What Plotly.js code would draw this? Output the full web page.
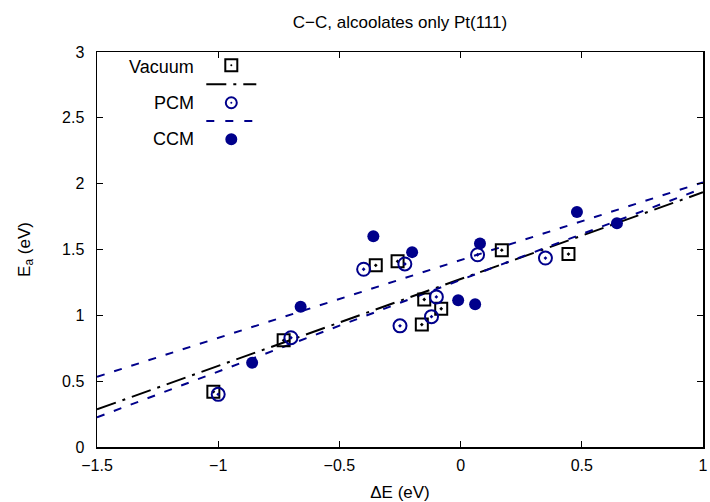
<!DOCTYPE html>
<html>
<head>
<meta charset="utf-8">
<script src="https://cdn.plot.ly/plotly-3.0.1.min.js"></script>
<style>html,body{margin:0;padding:0;background:#fff;}#chart{width:710px;height:502px;}</style>
</head>
<body>
<div id="chart"></div>
<script>
// Data
const vacX = [-1.02, -0.73, -0.35, -0.26, -0.15, -0.08, -0.16, 0.17, 0.445];
const vacY = [0.42, 0.81, 1.38, 1.41, 1.12, 1.05, 0.93, 1.495, 1.465];
const pcmX = [-1.00, -0.70, -0.40, -0.23, -0.10, -0.12, -0.25, 0.07, 0.35];
const pcmY = [0.40, 0.83, 1.35, 1.39, 1.14, 0.99, 0.92, 1.46, 1.435];
const ccmX = [-0.86, -0.66, -0.36, -0.20, -0.01, 0.06, 0.08, 0.48, 0.645];
const ccmY = [0.64, 1.065, 1.60, 1.48, 1.115, 1.085, 1.545, 1.785, 1.70];
// Fitted lines (end points)
const vacFitX = [-1.5, 1];
const vacFitY = [0.286, 1.935];
const pcmFitX = [-1.5, 1];
const pcmFitY = [0.225, 1.965];
const ccmFitX = [-1.5, 1];
const ccmFitY = [0.533, 2.01];
const xTicks = [-1.5, -1, -0.5, 0, 0.5, 1];
const yTicks = [0, 0.5, 1, 1.5, 2, 2.5, 3];
const seriesNames = ['Vacuum', 'PCM', 'CCM'];

const NAVY = '#00008b';
const FONT = 'Liberation Sans, Arial, Helvetica, sans-serif';

const traces = [
  {x: vacFitX, y: vacFitY, mode: 'lines', line: {color: '#000', width: 2, dash: '20px,7px,3px,7px'}, hoverinfo: 'skip'},
  {x: pcmFitX, y: pcmFitY, mode: 'lines', line: {color: NAVY, width: 2, dash: '8px,10px'}, hoverinfo: 'skip'},
  {x: ccmFitX, y: ccmFitY, mode: 'lines', line: {color: NAVY, width: 2, dash: '8px,10px'}, hoverinfo: 'skip'},
  {x: vacX, y: vacY, mode: 'markers', name: seriesNames[0],
   marker: {symbol: 'square-open-dot', size: 12, color: '#000', line: {color: '#000', width: 2}}},
  {x: pcmX, y: pcmY, mode: 'markers', name: seriesNames[1],
   marker: {symbol: 'circle-open-dot', size: 13, color: NAVY, line: {color: NAVY, width: 2}}},
  {x: ccmX, y: ccmY, mode: 'markers', name: seriesNames[2],
   marker: {symbol: 'circle', size: 12, color: NAVY}}
];

// manual gnuplot-style legend (text left, sample right)
const PX = v => (v - 96.7) / 606;
const PY = v => (447 - v) / 395.3;
const shapes = [
  {type: 'rect', xref: 'paper', yref: 'paper', xsizemode: 'pixel', ysizemode: 'pixel',
   xanchor: PX(231), yanchor: PY(65), x0: -6, x1: 6, y0: -6, y1: 6, line: {color: '#000', width: 2}},
  {type: 'circle', xref: 'paper', yref: 'paper', xsizemode: 'pixel', ysizemode: 'pixel',
   xanchor: PX(231), yanchor: PY(65), x0: -1, x1: 1, y0: -1, y1: 1, fillcolor: '#000', line: {width: 0}},
  {type: 'line', xref: 'paper', yref: 'paper', x0: PX(206), x1: PX(256), y0: PY(84), y1: PY(84),
   line: {color: '#000', width: 2, dash: '20px,7px,3px,7px'}},
  {type: 'circle', xref: 'paper', yref: 'paper', xsizemode: 'pixel', ysizemode: 'pixel',
   xanchor: PX(231), yanchor: PY(102.5), x0: -5.5, x1: 5.5, y0: -5.5, y1: 5.5, line: {color: NAVY, width: 2}},
  {type: 'circle', xref: 'paper', yref: 'paper', xsizemode: 'pixel', ysizemode: 'pixel',
   xanchor: PX(231), yanchor: PY(102.5), x0: -1, x1: 1, y0: -1, y1: 1, fillcolor: NAVY, line: {width: 0}},
  {type: 'line', xref: 'paper', yref: 'paper', x0: PX(206), x1: PX(256), y0: PY(120.7), y1: PY(120.7),
   line: {color: NAVY, width: 2, dash: '8px,11px'}},
  {type: 'circle', xref: 'paper', yref: 'paper', xsizemode: 'pixel', ysizemode: 'pixel',
   xanchor: PX(231), yanchor: PY(139), x0: -6, x1: 6, y0: -6, y1: 6, fillcolor: NAVY, line: {width: 0}}
];
const LFONT = {size: 18, color: '#000', family: FONT};
const annotations = [
  {text: seriesNames[0], xref: 'paper', yref: 'paper', x: PX(196), y: PY(66.5), xanchor: 'right', yanchor: 'middle', showarrow: false, font: LFONT},
  {text: seriesNames[1], xref: 'paper', yref: 'paper', x: PX(196), y: PY(103), xanchor: 'right', yanchor: 'middle', showarrow: false, font: LFONT},
  {text: seriesNames[2], xref: 'paper', yref: 'paper', x: PX(196), y: PY(139), xanchor: 'right', yanchor: 'middle', showarrow: false, font: LFONT}
];

const layout = {
  width: 710, height: 502,
  margin: {l: 97, r: 7, t: 52, b: 55},
  paper_bgcolor: '#fff', plot_bgcolor: '#fff',
  showlegend: false,
  font: {family: FONT, size: 16, color: '#000'},
  title: {text: 'C\u2212C, alcoolates only Pt(111)', x: 0.5, xref: 'paper', y: 0.957, yanchor: 'middle', font: {size: 17, family: FONT}},
  xaxis: {
    range: [-1.5, 1], tickvals: xTicks, ticktext: xTicks.map(v => v < 0 ? '\u2212' + Math.abs(v) : String(v)),
    ticks: 'inside', ticklen: 6, tickcolor: '#000', tickwidth: 1, ticklabelstandoff: 3,
    showline: true, mirror: 'ticks', linecolor: '#000', linewidth: 1.5,
    showgrid: false, zeroline: false, automargin: false,
    tickfont: {size: 16},
    title: {text: '\u0394E (eV)', standoff: 14, font: {size: 17}}
  },
  yaxis: {
    range: [0, 3], tickvals: yTicks, ticktext: yTicks.map(v => String(v)),
    ticks: 'inside', ticklen: 6, tickcolor: '#000', tickwidth: 1, ticklabelstandoff: 8,
    showline: true, mirror: 'ticks', linecolor: '#000', linewidth: 1.5,
    showgrid: false, zeroline: false, automargin: false,
    tickfont: {size: 16},
    title: {text: 'E<sub>a</sub> (eV)', standoff: 27, font: {size: 17}}
  },
  shapes: shapes,
  annotations: annotations
};

Plotly.newPlot('chart', traces, layout, {displayModeBar: false, staticPlot: true});
</script>
</body>
</html>
